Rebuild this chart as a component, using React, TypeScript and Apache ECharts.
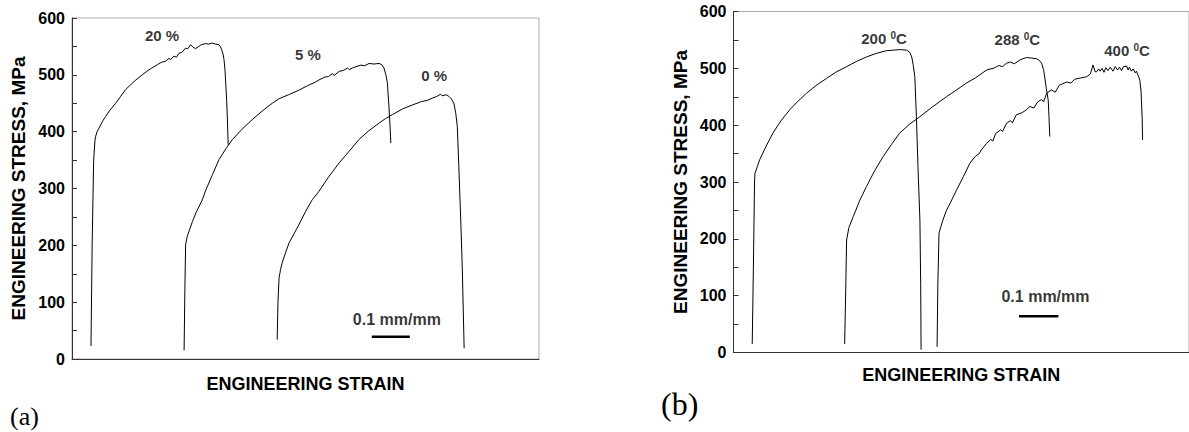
import React, { useEffect, useRef } from "react";
import * as echarts from "echarts";

// ---------- Panel (a): pre-strain ----------
const curve20: [number, number][] = [
  [0.05, 23], [0.053, 200], [0.057, 350], [0.0605, 385], [0.0624, 392], [0.066, 400], [0.071, 406],
  [0.08, 418], [0.0887, 427], [0.1, 438], [0.115, 450], [0.128, 462], [0.141, 474], [0.155, 483],
  [0.168, 491], [0.185, 500], [0.2026, 509], [0.215, 514], [0.225, 518], [0.235, 522], [0.2466, 524],
  [0.255, 529], [0.26, 527], [0.268, 533], [0.275, 531], [0.2816, 538], [0.29, 540], [0.299, 547],
  [0.305, 546], [0.312, 553], [0.318, 549], [0.325, 546], [0.334, 550], [0.34, 553], [0.352, 555],
  [0.36, 554], [0.369, 556], [0.378, 554], [0.387, 553], [0.391, 549], [0.394, 544], [0.398, 535],
  [0.4, 527], [0.4025, 510], [0.4045, 486], [0.407, 455], [0.4087, 427], [0.411, 377],
];
const curve5: [number, number][] = [
  [0.295, 15], [0.297, 120], [0.299, 201], [0.303, 215], [0.308, 225], [0.317, 242], [0.326, 257],
  [0.343, 280], [0.352, 297], [0.37, 325], [0.387, 351], [0.405, 370], [0.422, 386], [0.447, 404],
  [0.474, 421], [0.5, 436], [0.527, 450], [0.545, 458], [0.57, 465], [0.597, 473], [0.62, 481],
  [0.64, 487], [0.65, 491], [0.665, 496], [0.675, 497], [0.685, 502], [0.69, 499], [0.703, 506],
  [0.715, 508], [0.725, 512], [0.73, 509], [0.738, 512], [0.75, 515], [0.76, 517], [0.77, 516],
  [0.782, 520], [0.795, 519], [0.808, 520], [0.815, 518], [0.821, 512], [0.826, 500], [0.83, 486],
  [0.832, 465], [0.834, 445], [0.837, 410], [0.839, 380],
];
const curve0: [number, number][] = [
  [0.54, 34], [0.542, 100], [0.545, 143], [0.549, 158], [0.553, 169], [0.562, 187], [0.571, 204],
  [0.584, 220], [0.597, 236], [0.615, 260], [0.632, 280], [0.65, 295], [0.675, 320], [0.703, 345],
  [0.73, 366], [0.755, 386], [0.78, 401], [0.808, 415], [0.825, 423], [0.843, 430], [0.87, 440],
  [0.896, 447], [0.92, 453], [0.935, 455], [0.948, 459], [0.96, 462], [0.97, 466], [0.974, 463],
  [0.985, 465], [0.992, 462], [0.998, 458], [1.005, 450], [1.01, 432], [1.014, 409], [1.018, 339],
  [1.023, 245], [1.027, 163], [1.032, 19],
];
const scaleBarA: [number, number][] = [[0.789, 39], [0.889, 39]];
const labelsA = [
  { name: "20 %", value: [0.237, 570] },
  { name: "5 %", value: [0.621, 535] },
  { name: "0 %", value: [0.953, 498] },
];
const scaleTextA = { name: "0.1 mm/mm", value: [0.855, 70] };

// ---------- Panel (b): temperature ----------
const curve200: [number, number][] = [
  [0.048, 15], [0.051, 150], [0.054, 300], [0.055, 315], [0.061, 327], [0.067, 339], [0.083, 362],
  [0.101, 386], [0.122, 408], [0.144, 427], [0.165, 442], [0.187, 456], [0.212, 470], [0.238, 482],
  [0.262, 493], [0.29, 503], [0.315, 512], [0.341, 520], [0.365, 526], [0.392, 531], [0.41, 532],
  [0.426, 533], [0.444, 532], [0.452, 528], [0.457, 520], [0.461, 505], [0.465, 485], [0.469, 415],
  [0.473, 327], [0.478, 233], [0.48, 120], [0.481, 5],
];
const curve288: [number, number][] = [
  [0.285, 15], [0.288, 120], [0.29, 198], [0.296, 220], [0.307, 239], [0.324, 268], [0.341, 292],
  [0.362, 320], [0.384, 345], [0.405, 366], [0.426, 386], [0.452, 402], [0.478, 415], [0.51, 432],
  [0.546, 450], [0.572, 462], [0.597, 474], [0.62, 483], [0.649, 497], [0.67, 501], [0.68, 505],
  [0.69, 503], [0.7, 509], [0.71, 511], [0.72, 508], [0.735, 515], [0.751, 519], [0.765, 518],
  [0.777, 517], [0.784, 514], [0.79, 509], [0.795, 498], [0.798, 485], [0.802, 465], [0.807, 444],
  [0.809, 415], [0.811, 380],
];
const curve400: [number, number][] = [
  [0.522, 10], [0.524, 120], [0.527, 210], [0.532, 222], [0.537, 233], [0.546, 250], [0.555, 262],
  [0.572, 286], [0.59, 310], [0.606, 333], [0.62, 345], [0.63, 350], [0.635, 356], [0.649, 368],
  [0.66, 375], [0.665, 372], [0.672, 385], [0.685, 392], [0.69, 389], [0.7, 403], [0.71, 408],
  [0.715, 404], [0.725, 418], [0.74, 422], [0.751, 427], [0.76, 433], [0.77, 430], [0.78, 441],
  [0.79, 445], [0.795, 441], [0.803, 456], [0.815, 462], [0.825, 458], [0.835, 470], [0.854, 476],
  [0.865, 474], [0.875, 481], [0.89, 483], [0.905, 485], [0.915, 490], [0.922, 506], [0.927, 494],
  [0.931, 494], [0.936, 499], [0.94, 495], [0.945, 500], [0.95, 493], [0.955, 501], [0.96, 496],
  [0.966, 502], [0.973, 495], [0.979, 503], [0.985, 497], [0.99, 502], [0.995, 496], [1.0, 503],
  [1.008, 504], [1.012, 497], [1.015, 502], [1.02, 495], [1.025, 499], [1.03, 492], [1.033, 495],
  [1.038, 487], [1.042, 479], [1.045, 460], [1.046, 444], [1.048, 410], [1.049, 374],
];
const scaleBarB: [number, number][] = [[0.732, 64], [0.833, 64]];
const labelsB = [
  { name: "200", value: [0.386, 553] },
  { name: "288", value: [0.728, 550] },
  { name: "400", value: [1.009, 532] },
];
const scaleTextB = { name: "0.1 mm/mm", value: [0.8, 98] };

const stressTicks = { min: 0, max: 600, interval: 100 };
const strainMaxA = 1.229;
const strainMaxB = 1.168;

const FONT = "Liberation Sans";

function yAxisCfg(gridIndex: number) {
  return {
    type: "value" as const,
    gridIndex,
    min: stressTicks.min,
    max: stressTicks.max,
    interval: stressTicks.interval,
    name: "ENGINEERING STRESS, MPa",
    nameLocation: "middle" as const,
    nameGap: 44,
    nameTextStyle: { fontFamily: FONT, fontWeight: "bold" as const, fontSize: 19, color: "#000" },
    axisLine: { show: true, lineStyle: { color: "#333", width: 1 } },
    axisTick: { show: true, inside: true, length: 5, lineStyle: { color: "#333" } },
    minorTick: { show: true, splitNumber: 2, length: 5, lineStyle: { color: "#333" } },
    splitLine: { show: false },
    axisLabel: { color: "#000", fontFamily: FONT, fontWeight: "bold" as const, fontSize: 16, margin: 7 },
  };
}

function xAxisCfg(gridIndex: number, max: number, gap: number) {
  return {
    type: "value" as const,
    gridIndex,
    min: 0,
    max,
    name: "ENGINEERING STRAIN",
    nameLocation: "middle" as const,
    nameGap: gap,
    nameTextStyle: { fontFamily: FONT, fontWeight: "bold" as const, fontSize: 18, color: "#000" },
    axisLine: { show: true, onZero: false, lineStyle: { color: "#333", width: 1 } },
    axisTick: { show: false },
    axisLabel: { show: false },
    splitLine: { show: false },
  };
}

function curve(data: [number, number][], idx: number) {
  return {
    type: "line" as const,
    xAxisIndex: idx,
    yAxisIndex: idx,
    data,
    symbol: "none",
    silent: true,
    lineStyle: { color: "#000", width: 1 },
  };
}

function bar(data: [number, number][], idx: number) {
  return {
    type: "line" as const,
    xAxisIndex: idx,
    yAxisIndex: idx,
    data,
    symbol: "none",
    silent: true,
    lineStyle: { color: "#000", width: 2.5 },
  };
}

export default function App() {
  const ref = useRef<HTMLDivElement>(null);
  useEffect(() => {
    if (!ref.current) return;
    const chart = echarts.init(ref.current, null, { renderer: "svg" });
    const textLabel = { fontFamily: FONT, fontWeight: "bold" as const, color: "#000" };
    chart.setOption({
      animation: false,
      backgroundColor: "#fff",
      grid: [
        { left: 72, top: 18, width: 467, height: 341, show: true, borderColor: "#aaa", borderWidth: 1 },
        { left: 733.5, top: 11.5, width: 456, height: 341, show: true, borderColor: "#aaa", borderWidth: 1 },
      ],
      xAxis: [xAxisCfg(0, strainMaxA, 16), xAxisCfg(1, strainMaxB, 13)],
      yAxis: [yAxisCfg(0), yAxisCfg(1)],
      series: [
        curve(curve20, 0),
        curve(curve5, 0),
        curve(curve0, 0),
        bar(scaleBarA, 0),
        {
          type: "scatter",
          xAxisIndex: 0,
          yAxisIndex: 0,
          symbolSize: 0,
          silent: true,
          data: labelsA,
          label: { show: true, position: "inside", formatter: "{b}", fontSize: 15, ...textLabel },
        },
        {
          type: "scatter",
          xAxisIndex: 0,
          yAxisIndex: 0,
          symbolSize: 0,
          silent: true,
          data: [scaleTextA],
          label: { show: true, position: "inside", formatter: "{b}", fontSize: 16, ...textLabel },
        },
        curve(curve200, 1),
        curve(curve288, 1),
        curve(curve400, 1),
        bar(scaleBarB, 1),
        {
          type: "scatter",
          xAxisIndex: 1,
          yAxisIndex: 1,
          symbolSize: 0,
          silent: true,
          data: labelsB,
          label: {
            show: true,
            position: "inside",
            formatter: "{b} {sup|0}C",
            fontSize: 15,
            ...textLabel,
            rich: {
              sup: { fontSize: 10, verticalAlign: "top", fontFamily: FONT, fontWeight: "bold", color: "#000", padding: [0, 0, 6, 0] },
            },
          },
        },
        {
          type: "scatter",
          xAxisIndex: 1,
          yAxisIndex: 1,
          symbolSize: 0,
          silent: true,
          data: [scaleTextB],
          label: { show: true, position: "inside", formatter: "{b}", fontSize: 16, ...textLabel },
        },
      ],
      graphic: [
        { type: "text", left: 10, top: 403, style: { text: "(a)", font: "26px 'Liberation Serif'", fill: "#000" } },
        { type: "text", left: 661, top: 388, style: { text: "(b)", font: "32px 'Liberation Serif'", fill: "#000" } },
      ],
    });
    return () => chart.dispose();
  }, []);
  return (
    <div
      ref={ref}
      style={{ position: "fixed", left: 0, top: 0, width: 1189, height: 432, background: "#fff" }}
    />
  );
}
